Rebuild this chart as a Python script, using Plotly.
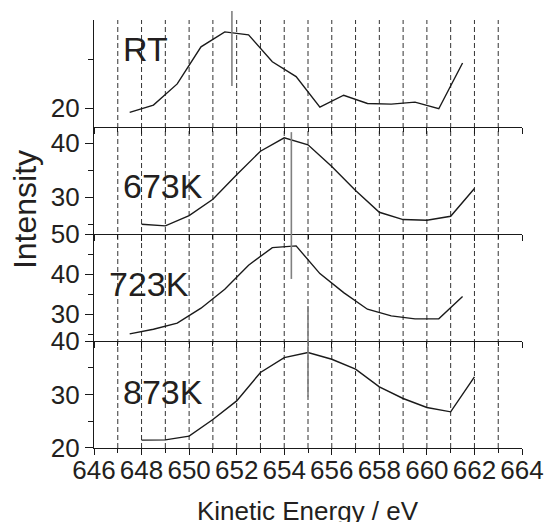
import plotly.graph_objects as go
from plotly.subplots import make_subplots

# ---- data ----
x_rt = [647.5, 648.5, 649.5, 650.5, 651.5, 652.5, 653.5, 654.5, 655.5, 656.5, 657.5, 658.5, 659.5, 660.5, 661.5]
y_rt = [19.56, 20.31, 22.5, 26.33, 27.87, 27.56, 24.79, 23.25, 20.1, 21.33, 20.48, 20.41, 20.62, 19.94, 24.66]

x_673 = [648, 649, 650, 651, 652, 653, 654, 655, 656, 657, 658, 659, 660, 661, 662]
y_673 = [25.0, 24.7, 26.6, 29.63, 34.15, 38.52, 41.0, 39.7, 35.69, 31.24, 27.22, 25.87, 25.74, 26.48, 31.61]

x_723 = [647.5, 648.5, 649.5, 650.5, 651.5, 652.5, 653.5, 654.5, 655.5, 656.5, 657.5, 658.5, 659.5, 660.5, 661.5]
y_723 = [25.08, 26.25, 27.75, 31.5, 36.25, 42.25, 46.65, 47.08, 40.15, 35.4, 31.25, 29.58, 28.83, 28.83, 34.4]

x_873 = [648, 649, 650, 651, 652, 653, 654, 655, 656, 657, 658, 659, 660, 661, 662]
y_873 = [21.43, 21.48, 22.18, 25.31, 28.8, 34.13, 36.94, 37.88, 36.62, 34.75, 31.43, 29.25, 27.56, 26.74, 33.3]

labels = ["RT", "673K", "723K", "873K"]
y_ranges = [[18.05, 29.1], [23.2, 43.0], [23.3, 50.05], [19.95, 40.05]]
peak_marks = [651.8, 654.3, 655.0]
grid_x = list(range(647, 664))
x_ticks = list(range(646, 665, 2))

series = [(x_rt, y_rt), (x_673, y_673), (x_723, y_723), (x_873, y_873)]

FONT = "Liberation Sans, Arial, sans-serif"
TXT = "#231f20"

fig = make_subplots(rows=4, cols=1, shared_xaxes=True, vertical_spacing=0)

for i, (xs, ys) in enumerate(series):
    fig.add_trace(go.Scatter(x=xs, y=ys, mode="lines",
                             line=dict(color="#1a1a1a", width=1.4),
                             showlegend=False, hoverinfo="skip"),
                  row=i + 1, col=1)

for i in range(4):
    r = i + 1
    fig.update_yaxes(row=r, col=1, range=y_ranges[i], tick0=0, dtick=10,
                     automargin=False,
                     ticks="outside", ticklen=8, tickwidth=1, tickcolor="#1a1a1a",
                     showline=True, linecolor="#1a1a1a", linewidth=1.2,
                     showgrid=False, zeroline=False,
                     tickfont=dict(family=FONT, size=26, color=TXT),
                     minor=dict(dtick=5, tick0=0, ticks="outside", ticklen=5,
                                tickcolor="#1a1a1a", showgrid=False))
    fig.update_xaxes(row=r, col=1, range=[646, 664], tickvals=x_ticks,
                     automargin=False,
                     ticks="outside", ticklen=6, tickwidth=1, tickcolor="#1a1a1a",
                     showline=True, linecolor="#1a1a1a", linewidth=1.2,
                     showgrid=False, zeroline=False,
                     showticklabels=(r == 4), ticklabelstandoff=-7,
                     tickfont=dict(family=FONT, size=26, color=TXT),
                     minor=dict(dtick=1, tick0=646, ticks="outside", ticklen=4,
                                tickcolor="#1a1a1a", showgrid=False))

shapes = []
for gx in grid_x:
    shapes.append(dict(type="line", xref="x", yref="paper", x0=gx, x1=gx, y0=0, y1=1,
                       line=dict(color="#333333", width=1, dash="5px,3px"), layer="below"))

mark_spans = [(1.021, 0.846), (0.738, 0.395), (0.332, 0.119)]
for mx, (ya, yb) in zip(peak_marks, mark_spans):
    shapes.append(dict(type="line", xref="x", yref="paper", x0=mx, x1=mx, y0=yb, y1=ya,
                       line=dict(color="#808080", width=1.6), layer="above"))

label_pos = [(0.064, 0.932), (0.063, 0.613), (0.030, 0.384), (0.063, 0.131)]
annotations = []
for lab, (ax, ay) in zip(labels, label_pos):
    annotations.append(dict(text=lab, xref="paper", yref="paper", x=ax, y=ay,
                            xanchor="left", yanchor="middle", showarrow=False,
                            font=dict(family=FONT, size=34, color=TXT)))
annotations.append(dict(text="Intensity", xref="paper", yref="paper", x=-0.161, y=0.556,
                        xanchor="center", yanchor="middle", textangle=-90, showarrow=False,
                        font=dict(family=FONT, size=32, color=TXT)))
annotations.append(dict(text="Kinetic Energy / eV", xref="paper", yref="paper", x=0.5, y=-0.147,
                        xanchor="center", yanchor="middle", showarrow=False,
                        font=dict(family=FONT, size=26, color=TXT)))

fig.update_layout(width=544, height=522,
                  margin=dict(l=94, r=22, t=20, b=74, autoexpand=False),
                  paper_bgcolor="white", plot_bgcolor="white",
                  shapes=shapes, annotations=annotations, showlegend=False)

fig.write_html("out.html", config={"displayModeBar": False},
               post_script="document.body.style.margin='0px';document.body.style.overflow='hidden';")
